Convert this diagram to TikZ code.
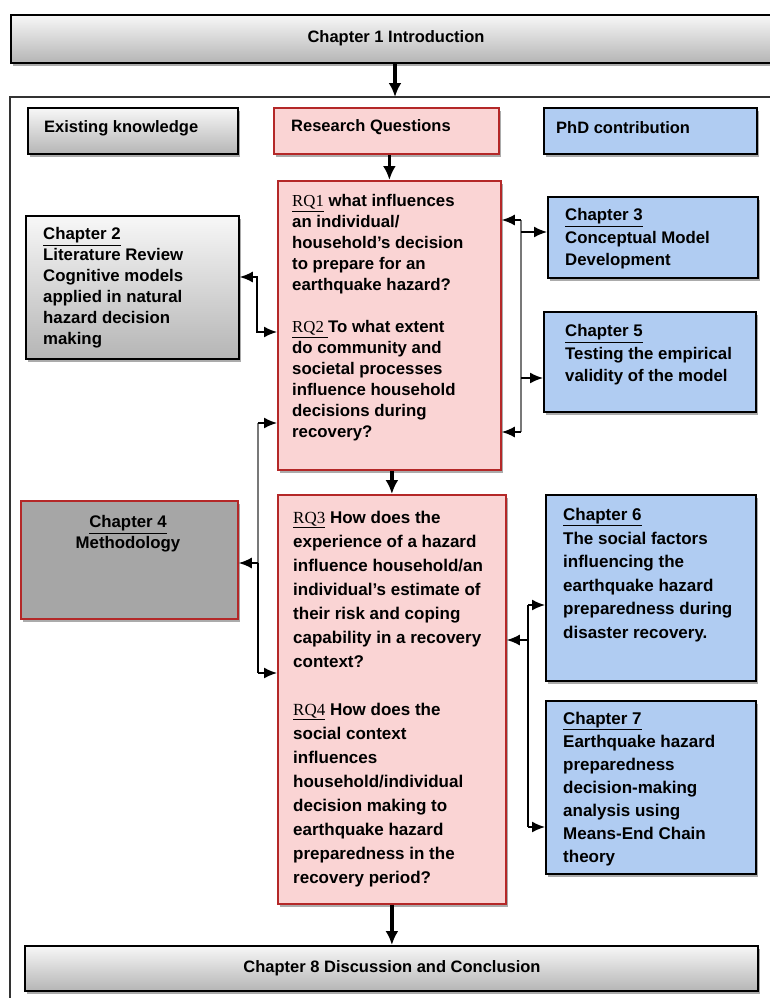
\documentclass[tikz,border=0pt]{standalone}
\usepackage{fontspec}
\setmainfont{Liberation Sans}
\newfontfamily\rqfont{Liberation Serif}
\usetikzlibrary{arrows.meta,shadows,calc}

\definecolor{rqfill}{RGB}{250,212,212}
\definecolor{rqline}{RGB}{180,40,40}
\definecolor{phdfill}{RGB}{176,204,242}
\definecolor{methfill}{RGB}{166,166,166}
\definecolor{busgrey}{RGB}{120,120,120}

\tikzset{
  x=1pt, y=-1pt,
  box/.style={rectangle, draw=black, line width=1.8pt, inner sep=0pt,
    anchor=north west,
    drop shadow={shadow xshift=2.5pt, shadow yshift=-3pt, fill=black!55, opacity=0.6}},
  greybox/.style={box, top color=gray!6, bottom color=gray!58},
  rqbox/.style={box, draw=rqline, fill=rqfill},
  bluebox/.style={box, fill=phdfill},
  methbox/.style={box, draw=rqline, fill=methfill},
  headtxt/.style={inner sep=0pt, font=\bfseries\fontsize{16.5}{20}\selectfont},
  bodytxt/.style={inner sep=0pt, anchor=north west, align=left},
  flow/.style={line width=3.6pt, -{Latex[length=14pt,width=13pt]}},
  tip/.style={line width=1.6pt, -{Latex[length=13pt,width=11pt]}},
  bus/.style={line width=1.6pt},
  thinbus/.style={line width=1.2pt, draw=busgrey},
}
\newcommand{\rqtag}[1]{{\rqfont\mdseries\underline{#1}}}
\newcommand{\chtag}[1]{\underline{#1}}

\begin{document}
\begin{tikzpicture}
\useasboundingbox (0,0) rectangle (770,998);
\fill[white] (0,0) rectangle (770,998);

% outer frame around the thesis body
\draw[line width=1.8pt, draw=black!80] (775,97) -- (10,97) -- (10,1003);

% top and bottom chapters
\node[greybox, minimum width=772pt, minimum height=48pt] (ch1) at (10,14) {};
\node[headtxt] (ch1t) at (396,38) {Chapter 1 Introduction};
\node[greybox, minimum width=733pt, minimum height=45pt] (ch8) at (24,945) {};
\node[headtxt] (ch8t) at (392,968) {Chapter 8 Discussion and Conclusion};

% column headings
\node[greybox, minimum width=210pt, minimum height=46pt] (exist) at (27,107) {};
\node[headtxt, anchor=west] (existt) at (44,128) {Existing knowledge};
\node[rqbox, minimum width=225pt, minimum height=46pt] (rqhead) at (273,107) {};
\node[headtxt, anchor=west] (rqheadt) at (291,127) {Research Questions};
\node[bluebox, minimum width=213pt, minimum height=46pt] (phd) at (543,107) {};
\node[headtxt, anchor=west] (phdt) at (556,128) {PhD contribution};

% research questions
\node[rqbox, minimum width=223pt, minimum height=289pt] (rq12) at (277,180) {};
\node[bodytxt, font=\bfseries\fontsize{16.8}{21}\selectfont] (rq12t) at (292,192)
  {\strut\rqtag{RQ1} what influences\\
   an individual/\\
   household's decision\\
   to prepare for an\\
   earthquake hazard?\\[21pt]
   \rqtag{RQ2 }To what extent\\
   do community and\\
   societal processes\\
   influence household\\
   decisions during\\
   recovery?};

\node[rqbox, minimum width=228pt, minimum height=409pt] (rq34) at (277,494) {};
\node[bodytxt, font=\bfseries\fontsize{17}{24}\selectfont] (rq34t) at (293,506)
  {\strut\rqtag{RQ3} How does the\\
   experience of a hazard\\
   influence household/an\\
   individual's estimate of\\
   their risk and coping\\
   capability in a recovery\\
   context?\\[24pt]
   \rqtag{RQ4} How does the\\
   social context\\
   influences\\
   household/individual\\
   decision making to\\
   earthquake hazard\\
   preparedness in the\\
   recovery period?};

% existing knowledge column
\node[greybox, minimum width=213pt, minimum height=143pt] (ch2) at (25,215) {};
\node[bodytxt, font=\bfseries\fontsize{16.8}{21}\selectfont] (ch2t) at (43,225)
  {\strut\chtag{Chapter 2}\\
   Literature Review\\
   Cognitive models\\
   applied in natural\\
   hazard decision\\
   making};

\node[methbox, minimum width=217pt, minimum height=118pt] (ch4) at (20,500) {};
\node[bodytxt, align=center, anchor=north, font=\bfseries\fontsize{16.8}{21}\selectfont] (ch4t) at (128,513)
  {\strut\chtag{Chapter 4}\\Methodology};

% PhD contribution column
\node[bluebox, minimum width=210pt, minimum height=81pt] (ch3) at (547,196) {};
\node[bodytxt, font=\bfseries\fontsize{16.8}{22.5}\selectfont] (ch3t) at (565,205)
  {\strut\chtag{Chapter 3}\\
   Conceptual Model\\
   Development};

\node[bluebox, minimum width=212pt, minimum height=100pt] (ch5) at (543,311) {};
\node[bodytxt, font=\bfseries\fontsize{16.8}{22.5}\selectfont] (ch5t) at (565,321)
  {\strut\chtag{Chapter 5}\\
   Testing the empirical\\
   validity of the model};

\node[bluebox, minimum width=210pt, minimum height=186pt] (ch6) at (545,494) {};
\node[bodytxt, font=\bfseries\fontsize{17}{23.5}\selectfont] (ch6t) at (563,504)
  {\strut\chtag{Chapter 6}\\
   The social factors\\
   influencing the\\
   earthquake hazard\\
   preparedness during\\
   disaster recovery.};

\node[bluebox, minimum width=210pt, minimum height=173pt] (ch7) at (545,700) {};
\node[bodytxt, font=\bfseries\fontsize{17}{23}\selectfont] (ch7t) at (563,708)
  {\strut\chtag{Chapter 7}\\
   Earthquake hazard\\
   preparedness\\
   decision-making\\
   analysis using\\
   Means-End Chain\\
   theory};

% main flow
\coordinate (ftop) at (395,97);
\draw[flow] (ch1.south -| ftop) -- (ftop);
\draw[flow] (rqhead.south -| rq12.north) -- (rq12.north);
\draw[flow] (rq12.south -| rq34.north) -- (rq34.north);
\draw[flow] (rq34.south) -- (rq34.south |- ch8.north);

% literature review <-> RQ1/RQ2
\coordinate (lA) at (257,277);
\coordinate (lB) at (257,332);
\draw[bus, {Latex[length=13pt,width=11pt]}-{Latex[length=13pt,width=11pt]}]
  (ch2.east |- lA) -- (lA) -- (lB) -- (rq12.west |- lB);

% methodology bus
\coordinate (lC) at (258,423);
\coordinate (lD) at (258,563);
\coordinate (lE) at (258,673);
\draw[thinbus] (lC) -- (lD);
\draw[bus] (lD) -- (lE);
\draw[tip] (lC) -- (rq12.west |- lC);
\draw[tip] (lD) -- (ch4.east |- lD);
\draw[tip] (lE) -- (rq34.west |- lE);

% chapters 3 and 5 bus
\coordinate (rA) at (521,220);
\coordinate (rB) at (521,232);
\coordinate (rC) at (521,378);
\coordinate (rD) at (521,432);
\draw[thinbus] (rA) -- (rD);
\draw[tip] (rA) -- (rq12.east |- rA);
\draw[tip] (rB) -- (ch3.west |- rB);
\draw[tip] (rC) -- (ch5.west |- rC);
\draw[tip] (rD) -- (rq12.east |- rD);

% chapters 6 and 7 bus
\coordinate (sA) at (528,605);
\coordinate (sB) at (528,640);
\coordinate (sC) at (528,827);
\draw[bus] (sA) -- (sC);
\draw[tip] (sA) -- (ch6.west |- sA);
\draw[tip] (sB) -- (rq34.east |- sB);
\draw[tip] (sC) -- (ch7.west |- sC);
\end{tikzpicture}
\end{document}
